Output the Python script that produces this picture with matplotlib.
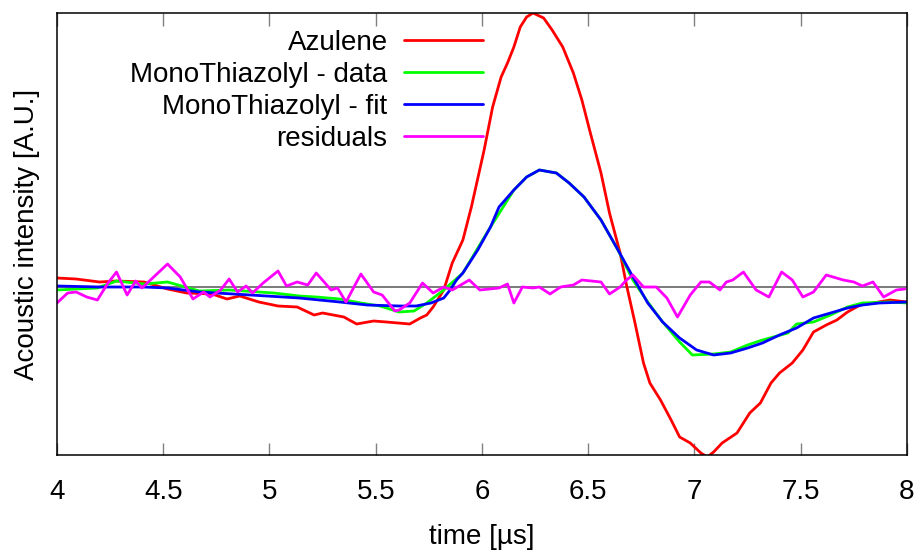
import matplotlib
matplotlib.use("Agg")
import matplotlib.pyplot as plt

plt.rcParams['font.family'] = ['Liberation Sans', 'DejaVu Sans']

# Azulene (time in us, intensity in A.U.)
t_azu = [4.00, 4.09, 4.20, 4.28, 4.41, 4.52, 4.61, 4.73, 4.80, 4.86, 4.95, 5.04, 5.13,
         5.21, 5.25, 5.35, 5.41, 5.49, 5.55, 5.66, 5.71, 5.74, 5.77, 5.82, 5.86, 5.91,
         5.95, 6.01, 6.05, 6.09, 6.12, 6.15, 6.18, 6.21, 6.24, 6.29, 6.33, 6.38, 6.43,
         6.47, 6.51, 6.56, 6.60, 6.65, 6.68, 6.72, 6.76, 6.79, 6.84, 6.89, 6.93, 6.98,
         7.03, 7.06, 7.09, 7.13, 7.20, 7.26, 7.31, 7.36, 7.40, 7.46, 7.51, 7.56, 7.62,
         7.67, 7.72, 7.78, 7.84, 7.92, 8.00]
y_azu = [0.09, 0.08, 0.05, 0.06, 0.05, -0.02, -0.06, -0.07, -0.12, -0.09, -0.15, -0.19, -0.20,
         -0.28, -0.26, -0.30, -0.37, -0.34, -0.35, -0.37, -0.31, -0.28, -0.20, -0.03, 0.24, 0.47,
         0.80, 1.37, 1.80, 2.10, 2.24, 2.40, 2.60, 2.70, 2.74, 2.69, 2.57, 2.40, 2.14,
         1.87, 1.54, 1.14, 0.74, 0.34, 0.02, -0.36, -0.76, -0.96, -1.13, -1.33, -1.50, -1.56,
         -1.66, -1.70, -1.65, -1.56, -1.46, -1.26, -1.16, -0.96, -0.86, -0.76, -0.63, -0.45, -0.38,
         -0.33, -0.25, -0.18, -0.16, -0.13, -0.15]

# MonoThiazolyl - data
t_mono = [4.00, 4.09, 4.19, 4.28, 4.41, 4.52, 4.67, 4.81, 5.02, 5.14, 5.22, 5.33, 5.43,
          5.52, 5.61, 5.68, 5.74, 5.82, 5.91, 6.04, 6.15, 6.21, 6.27, 6.35, 6.41, 6.48,
          6.56, 6.64, 6.71, 6.78, 6.85, 6.93, 6.99, 7.09, 7.17, 7.25, 7.32, 7.44, 7.48,
          7.56, 7.64, 7.72, 7.79, 7.92, 8.00]
y_mono = [-0.03, -0.02, -0.01, 0.06, 0.03, 0.05, -0.04, -0.03, -0.06, -0.09, -0.10, -0.12, -0.16,
          -0.19, -0.25, -0.24, -0.16, -0.03, 0.14, 0.60, 0.97, 1.10, 1.17, 1.14, 1.04, 0.90,
          0.67, 0.37, 0.07, -0.15, -0.35, -0.55, -0.68, -0.67, -0.65, -0.58, -0.53, -0.46, -0.37,
          -0.35, -0.28, -0.20, -0.16, -0.15, -0.16]

# MonoThiazolyl - fit
t_fit = [4.00, 4.20, 4.41, 4.52, 4.67, 4.91, 5.14, 5.33, 5.46, 5.61, 5.69, 5.76, 5.82,
         5.85, 5.88, 5.91, 5.98, 6.04, 6.08, 6.15, 6.21, 6.27, 6.35, 6.41, 6.48, 6.56,
         6.64, 6.70, 6.78, 6.85, 6.93, 7.01, 7.09, 7.17, 7.25, 7.32, 7.40, 7.48, 7.56,
         7.64, 7.72, 7.79, 7.87, 8.00]
y_fit = [0.01, 0.00, 0.00, -0.01, -0.05, -0.08, -0.11, -0.15, -0.18, -0.19, -0.19, -0.16, -0.11,
         -0.03, 0.07, 0.14, 0.37, 0.60, 0.80, 0.97, 1.10, 1.17, 1.14, 1.04, 0.90, 0.67,
         0.37, 0.14, -0.16, -0.35, -0.51, -0.63, -0.68, -0.66, -0.61, -0.56, -0.48, -0.41, -0.31,
         -0.26, -0.21, -0.18, -0.16, -0.15]

# residuals
t_res = [4.00, 4.05, 4.09, 4.14, 4.19, 4.24, 4.28, 4.33, 4.37, 4.40, 4.44, 4.49, 4.52,
         4.58, 4.64, 4.69, 4.72, 4.77, 4.81, 4.85, 4.89, 4.92, 4.97, 5.04, 5.08, 5.13,
         5.18, 5.22, 5.29, 5.32, 5.36, 5.43, 5.49, 5.53, 5.59, 5.61, 5.66, 5.72, 5.77,
         5.82, 5.86, 5.94, 5.99, 6.08, 6.12, 6.15, 6.19, 6.24, 6.27, 6.32, 6.37, 6.43,
         6.47, 6.56, 6.60, 6.65, 6.68, 6.71, 6.76, 6.82, 6.87, 6.92, 6.98, 7.03, 7.07,
         7.12, 7.15, 7.18, 7.23, 7.29, 7.35, 7.41, 7.46, 7.51, 7.56, 7.62, 7.70, 7.75,
         7.79, 7.84, 7.89, 7.95, 7.99]
y_res = [-0.16, -0.06, -0.05, -0.10, -0.13, 0.04, 0.15, -0.08, 0.06, -0.01, 0.07, 0.17, 0.23,
         0.10, -0.12, -0.05, -0.10, -0.03, 0.08, -0.05, 0.01, -0.06, 0.04, 0.16, 0.01, 0.05,
         0.02, 0.14, -0.03, -0.01, -0.15, 0.13, -0.05, -0.08, -0.24, -0.23, -0.16, 0.04, -0.06,
         0.00, -0.03, 0.07, -0.03, -0.01, 0.03, -0.16, 0.00, -0.01, 0.00, -0.07, 0.00, 0.02,
         0.07, 0.05, -0.07, 0.00, 0.07, 0.12, 0.00, 0.00, -0.11, -0.30, -0.08, 0.05, 0.05,
         -0.03, 0.05, 0.07, 0.15, -0.03, -0.10, 0.15, 0.07, -0.10, -0.05, 0.12, 0.07, 0.05,
         0.01, 0.05, -0.10, -0.03, -0.02]

fig = plt.figure(figsize=(9.2, 5.54), dpi=100)
ax = fig.add_axes([57/920, 99/554, 850/920, 442/554])

# zero line
ax.axhline(0, color='#707070', lw=1.3, zorder=1)

kw = dict(lw=2.0, solid_joinstyle='round', solid_capstyle='round')
ax.plot(t_azu, y_azu, color='#ff0000', label='Azulene', **kw)
ax.plot(t_mono, y_mono, color='#00ff00', label='MonoThiazolyl - data', **kw)
ax.plot(t_fit, y_fit, color='#0000ff', label='MonoThiazolyl - fit', **kw)
ax.plot(t_res, y_res, color='#ff00ff', label='residuals', **kw)

ax.set_xlim(4, 8)
ax.set_ylim(-1.68, 2.74)
ax.set_xticks([4, 4.5, 5, 5.5, 6, 6.5, 7, 7.5, 8])
ax.set_xticklabels(['4', '4.5', '5', '5.5', '6', '6.5', '7', '7.5', '8'])
ax.set_yticks([])
ax.tick_params(axis='x', direction='in', length=9, width=1, color='#808080',
               top=True, labelsize=20, pad=17)
for s in ax.spines.values():
    s.set_linewidth(1.1)

ax.set_xlabel('time [µs]', fontsize=20, labelpad=14)
ax.set_ylabel('Acoustic intensity [A.U.]', fontsize=20, labelpad=12)

leg = ax.legend(loc='upper right', bbox_to_anchor=(0.501, 0.962), frameon=False, markerfirst=False,
                fontsize=20, handlelength=2.85, handletextpad=0.58, labelspacing=0.22,
                borderpad=0, borderaxespad=0)
for h in leg.get_lines():
    h.set_linewidth(2.0)

plt.savefig('out.png', dpi=100)
